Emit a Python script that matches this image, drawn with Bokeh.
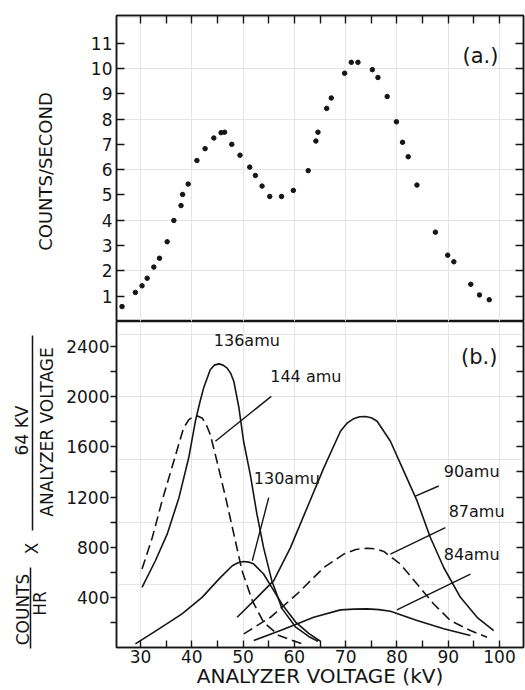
import numpy as np
from bokeh.plotting import figure
from bokeh.models import Range1d, LinearAxis, FixedTicker, Label
from bokeh.layouts import row, column
from bokeh.embed import file_html
from bokeh.resources import INLINE
from bokeh.core.properties import value

FONT = "DejaVu Sans"
INK = "#151515"

# ---------------- Panel (a): counts/second vs analyzer voltage ----------------
a_kv = [26.4, 29.0, 30.3, 31.3, 32.6, 33.7, 35.2, 36.5, 37.9, 38.2, 39.3, 41.0,
        42.6, 44.3, 45.7, 46.4, 47.8, 49.4, 51.3, 52.4, 53.7, 55.2, 57.5, 59.8,
        62.7, 64.2, 64.6, 66.3, 67.2, 69.8, 71.1, 72.4, 75.2, 76.3, 78.1, 79.9,
        81.1, 82.2, 83.9, 87.5, 89.9, 91.1, 94.4, 96.1, 98.0]
a_cps = [0.59, 1.15, 1.41, 1.71, 2.15, 2.50, 3.15, 3.99, 4.58, 5.02, 5.43, 6.36,
         6.83, 7.25, 7.46, 7.48, 7.00, 6.57, 6.10, 5.77, 5.35, 4.94, 4.94, 5.18,
         5.96, 7.13, 7.48, 8.42, 8.83, 9.81, 10.24, 10.24, 9.95, 9.64, 8.89, 7.89,
         7.08, 6.51, 5.39, 3.53, 2.62, 2.36, 1.47, 1.05, 0.86]

# ---------------- Panel (b): unfolded mass components ----------------
kv_136 = [30.3, 32.9, 35.2, 37.5, 39.4, 40.7, 41.6, 42.3, 43.6, 44.4, 45.3, 46.1,
          46.9, 47.6, 48.2, 49.2, 50.1, 51.4, 52.7, 54.0, 55.6, 57.6, 60.2, 62.8, 64.6]
v_136 = [479, 692, 904, 1195, 1513, 1804, 1960, 2069, 2215, 2252, 2262, 2252,
         2228, 2185, 2122, 1910, 1645, 1381, 1063, 797, 533, 310, 165, 88, 50]

kv_144 = [30.3, 32.3, 34.2, 36.5, 38.4, 39.4, 40.4, 41.2, 42.0, 42.8, 43.6, 44.9,
          46.6, 48.2, 49.8, 51.8, 54.0, 57.0, 61.5]
v_144 = [626, 877, 1169, 1487, 1751, 1815, 1844, 1845, 1831, 1780, 1699, 1487,
         1195, 904, 612, 374, 201, 95, 29]

kv_130 = [29.0, 33.6, 38.1, 42.0, 45.6, 47.9, 49.0, 50.1, 51.1, 52.1, 54.0, 55.6,
          57.6, 60.2, 62.8, 65.0]
v_130 = [29, 149, 268, 400, 559, 652, 676, 686, 681, 665, 586, 479, 345, 205,
         112, 52]

kv_90 = [48.85, 52.75, 55.98, 59.24, 62.49, 65.74, 68.99, 70.3, 71.58, 72.7, 73.86,
         75.0, 76.14, 78.73, 81.33, 83.93, 86.52, 89.12, 92.38, 95.63, 98.87]
v_90 = [241, 400, 533, 797, 1115, 1433, 1725, 1790, 1825, 1840, 1842, 1832, 1804,
        1645, 1407, 1169, 877, 638, 400, 241, 135]

kv_87 = [50.14, 55.34, 60.54, 65.74, 69.64, 72.0, 74.19, 76.0, 77.43, 80.68,
         83.93, 87.17, 90.43, 94.33, 97.58]
v_87 = [109, 241, 427, 638, 745, 782, 792, 786, 766, 665, 506, 347, 215, 135, 82]

kv_84 = [52.09, 57.29, 63.78, 68.99, 71.6, 74.19, 76.5, 78.73, 83.93, 89.12, 94.33]
v_84 = [56, 135, 241, 300, 306, 308, 302, 289, 215, 149, 95]

# leader lines (label -> curve)
lead_x0 = [55.5, 55.0, 88.15, 89.45, 94.33]
lead_y0 = [2003, 1195, 1288, 956, 586]
lead_x1 = [44.6, 51.8, 83.6, 78.73, 80.0]
lead_y1 = [1645, 692, 1208, 745, 300]

# curve labels
lab_text = ["136amu", "144 amu", "130amu", "90amu", "87amu", "84amu"]
lab_x = [44.29, 55.3, 52.09, 89.12, 90.09, 89.12]
lab_y = [2452, 2162, 1347, 1407, 1081, 743]

# ticks
a_yticks = [1, 2, 3, 4, 5, 6, 7, 8, 9, 10, 11]
kv_major = [30, 40, 50, 60, 70, 80, 90, 100]
kv_minor = [35, 45, 55, 65, 75, 85, 95]
kv_all = [30, 35, 40, 45, 50, 55, 60, 65, 70, 75, 80, 85, 90, 95, 100]
b_yticks = [400, 800, 1200, 1600, 2000, 2400]
b_yminor = [200, 600, 1000, 1400, 1800, 2200]
b_right = [200, 400, 600, 800, 1000, 1200, 1400, 1600, 1800, 2000, 2200, 2400]

X_RANGE = (25.32, 104.68)


def style_axis(ax, tin, tout, labels=True, size="17px", standoff=3):
    ax.major_tick_in = tin
    ax.major_tick_out = tout
    ax.minor_tick_in = tin
    ax.minor_tick_out = tout
    ax.axis_line_color = INK
    ax.axis_line_width = 1.5
    ax.major_tick_line_color = INK
    ax.minor_tick_line_color = INK
    ax.major_tick_line_width = 1.4
    ax.minor_tick_line_width = 1.4
    ax.major_label_text_font = FONT
    if labels:
        ax.major_label_text_color = INK
        ax.major_label_text_font_size = size
        ax.major_label_standoff = standoff
    else:
        ax.major_label_text_color = None
        ax.major_label_text_font_size = "0px"
        ax.major_label_standoff = 0


# ---------------- top figure ----------------
top = figure(width=465, height=321, x_range=Range1d(*X_RANGE), y_range=Range1d(0, 12.09),
             output_backend="svg", toolbar_location=None, title=None,
             x_axis_location=None, y_axis_location=None,
             min_border_left=56, min_border_right=2, min_border_top=15, min_border_bottom=0)
top.outline_line_color = INK
top.outline_line_width = 1.5
top.background_fill_color = "white"
top.border_fill_color = "white"

ax = LinearAxis(ticker=FixedTicker(ticks=a_yticks))
style_axis(ax, 8, 0, True, "17px", 4)
top.add_layout(ax, "left")
ax = LinearAxis(ticker=FixedTicker(ticks=a_yticks))
style_axis(ax, 8, 0, False)
top.add_layout(ax, "right")
ax = LinearAxis(ticker=FixedTicker(ticks=kv_all))
style_axis(ax, 8, 0, False)
top.add_layout(ax, "above")

top.scatter(a_kv, a_cps, size=4.5, color=INK)
top.add_layout(Label(x=99.8, y=10.5, text="(a.)", text_align="right", text_baseline="middle",
                     text_font=FONT, text_font_size="21px", text_color=INK))

# ---------------- bottom figure ----------------
bot = figure(width=465, height=369, x_range=Range1d(*X_RANGE), y_range=Range1d(0, 2600),
             output_backend="svg", toolbar_location=None, title=None,
             x_axis_location=None, y_axis_location=None,
             min_border_left=56, min_border_right=2, min_border_top=0, min_border_bottom=42)
bot.outline_line_color = INK
bot.outline_line_width = 1.5
bot.background_fill_color = "white"
bot.border_fill_color = "white"

ax = LinearAxis(ticker=FixedTicker(ticks=kv_major, minor_ticks=kv_minor),
                axis_label="ANALYZER VOLTAGE (kV)")
style_axis(ax, 7, 0, True, "17px", 2)
ax.axis_label_text_font = FONT
ax.axis_label_text_font_size = "20px"
ax.axis_label_text_font_style = "normal"
ax.axis_label_text_color = INK
ax.axis_label_standoff = -2
bot.add_layout(ax, "below")

ax = LinearAxis(ticker=FixedTicker(ticks=b_yticks, minor_ticks=b_yminor))
style_axis(ax, 0, 6, True, "17px", 1)
bot.add_layout(ax, "left")
ax = LinearAxis(ticker=FixedTicker(ticks=b_right))
style_axis(ax, 7, 0, False)
bot.add_layout(ax, "right")

LW = 1.6
bot.line(kv_136, v_136, line_width=LW, color=INK)
bot.line(kv_144, v_144, line_width=LW, color=INK, line_dash="10 5")
bot.line(kv_130, v_130, line_width=LW, color=INK)
bot.line(kv_90, v_90, line_width=LW, color=INK)
bot.line(kv_87, v_87, line_width=LW, color=INK, line_dash="10 5")
bot.line(kv_84, v_84, line_width=LW, color=INK)
bot.segment(lead_x0, lead_y0, lead_x1, lead_y1, line_width=1.4, color=INK)
bot.text(lab_x, lab_y, text=lab_text, text_align="left", text_baseline="middle",
         text_font=value(FONT), text_font_size="16px", text_color=INK)
bot.add_layout(Label(x=99.6, y=2313, text="(b.)", text_align="right", text_baseline="middle",
                     text_font=FONT, text_font_size="21px", text_color=INK))

# ---------------- left label strip (rotated axis titles) ----------------
lab = figure(width=60, height=690, x_range=Range1d(0, 60), y_range=Range1d(0, 690),
             output_backend="svg", toolbar_location=None, title=None,
             x_axis_location=None, y_axis_location=None, min_border=0)
lab.outline_line_color = None
lab.grid.visible = False
lab.border_fill_color = "white"
lab.background_fill_color = "white"

lab.text([45], [519], text=["COUNTS/SECOND"], angle=np.pi / 2, text_align="center",
         text_baseline="middle", text_font=value(FONT), text_font_size="18px", text_color=INK)
lab.text([21.5, 46, 31, 22.5, 39], [260, 258.5, 142, 81, 87],
         text=["64 KV", "ANALYZER VOLTAGE", "X", "COUNTS", "HR"], angle=np.pi / 2,
         text_align="center", text_baseline="middle", text_font=value(FONT),
         text_font_size="17px", text_color=INK)
lab.segment([32, 30], [160, 42], [32, 30], [355, 123], line_width=1.5, color=INK)

layout = row(lab, column(top, bot))
open("out.html", "w").write(file_html(layout, INLINE))
